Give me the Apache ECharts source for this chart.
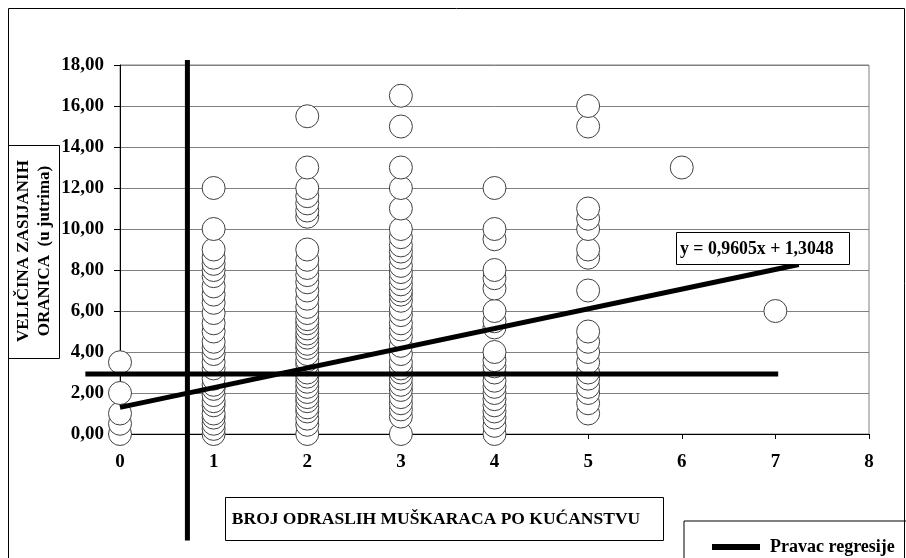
<!DOCTYPE html>
<html>
<head>
<meta charset="utf-8">
<script src="https://cdn.jsdelivr.net/npm/echarts@6/dist/echarts.min.js"></script>
<style>
html, body { margin: 0; padding: 0; background: #fff; }
#main { width: 906px; height: 558px; }
</style>
</head>
<body>
<div id="main"></div>
<script>
// broj odraslih muškaraca (x) -> veličina zasijanih oranica (y), po stupcima
const men0 = [0, 0.5, 1, 2, 3.5];
const men1 = [0, 0.25, 0.5, 0.8, 1, 1.4, 1.6, 1.9, 2.2, 2.4, 2.7, 3.2, 3.5, 3.9, 4.2, 4.5, 5, 5.4, 5.9, 6.4, 6.8, 7.2, 7.7, 8, 8.3, 8.6, 9, 10, 12];
const men2 = [0, 0.45, 0.75, 1.1, 1.3, 1.6, 1.8, 2.05, 2.3, 2.55, 2.8, 3, 3.4, 3.6, 3.9, 4.2, 4.4, 4.7, 4.9, 5.15, 5.4, 5.6, 5.9, 6.2, 6.6, 7, 7.4, 7.75, 8.1, 8.5, 9, 10.6, 10.9, 11.25, 11.6, 12, 13, 15.5];
const men3 = [0, 0.85, 1.2, 1.5, 1.8, 2.15, 2.4, 2.7, 3, 3.2, 3.5, 3.9, 4.3, 4.75, 5.1, 5.4, 5.8, 6.1, 6.5, 6.8, 7, 7.3, 7.6, 7.9, 8.2, 8.6, 8.9, 9.2, 9.6, 10, 11, 12, 13, 15, 16.5];
const men4 = [0, 0.4, 0.8, 1.1, 1.4, 1.7, 2, 2.3, 2.6, 3, 3.3, 3.6, 4, 5.2, 5.5, 6, 7.1, 7.6, 8, 9.5, 10, 12];
const men5 = [1, 1.5, 2, 2.3, 2.7, 3, 3.5, 4, 4.5, 5, 7, 8.6, 9, 10, 10.5, 11, 15, 16];
const men6 = [13];
const men7 = [6];
const columns = [men0, men1, men2, men3, men4, men5, men6, men7];

// pravac regresije (krajnje točke očitane sa slike)
const regX = [0, 7.25];
const regY = [1.3, 8.27];

// debele linije (prosjeci) i njihovi rasponi
const avgX = 0.72;
const avgXSpan = [-5.2, 18.25];
const avgY = 2.93;
const avgYSpan = [-0.37, 7.03];

const yTicks = [0, 2, 4, 6, 8, 10, 12, 14, 16, 18];
const xTicks = [0, 1, 2, 3, 4, 5, 6, 7, 8];

const FONT = '"Liberation Serif", "Times New Roman", serif';

function initChart() {
    const chart = echarts.init(document.getElementById('main'));

    const points = [];
    columns.forEach((col, x) => {
        col.forEach(v => points.push([x, v]));
    });

    // druga (nevidljiva) mreža s istim mjerilom, proširena ulijevo za jednu jedinicu
    const unitPx = (906 - 120 - 37) / (xTicks.length - 1);

    chart.setOption({
        animation: false,
        grid: [
            {
                left: 120, right: 37, top: 65, bottom: 124,
                show: true, borderColor: '#808080', borderWidth: 1,
                outerBoundsMode: 'none'
            },
            {
                left: 120 - unitPx, right: 37, top: 65, bottom: 124,
                show: false, outerBoundsMode: 'none'
            }
        ],
        legend: {
            data: ['Pravac regresije'],
            left: 684, top: 521,
            padding: [17, 40, 40, 28],
            borderColor: '#000', borderWidth: 1,
            itemWidth: 48, itemHeight: 6, icon: 'rect',
            textStyle: {
                fontFamily: FONT, fontWeight: 'bold', fontSize: 18, color: '#000',
                padding: [0, 0, 0, 5]
            }
        },
        xAxis: [
            {
                type: 'value', gridIndex: 0,
                min: xTicks[0], max: xTicks[xTicks.length - 1], interval: 1,
                axisLine: { lineStyle: { color: '#000', width: 1 } },
                axisTick: { length: 5, lineStyle: { color: '#000' } },
                splitLine: { show: false },
                axisLabel: {
                    margin: 19, color: '#000',
                    fontFamily: FONT, fontWeight: 'bold', fontSize: 19
                }
            },
            {
                type: 'value', gridIndex: 1, show: false,
                min: xTicks[0] - 1, max: xTicks[xTicks.length - 1],
                splitLine: { show: false }
            }
        ],
        yAxis: [
            {
                type: 'value', gridIndex: 0,
                min: yTicks[0], max: yTicks[yTicks.length - 1], interval: 2,
                axisLine: { show: true, lineStyle: { color: '#000', width: 1 } },
                axisTick: { show: true, length: 6, lineStyle: { color: '#000' } },
                splitLine: { lineStyle: { color: '#808080', width: 1 } },
                axisLabel: {
                    margin: 16, color: '#000',
                    fontFamily: FONT, fontWeight: 'bold', fontSize: 19,
                    formatter: v => v.toFixed(2).replace('.', ',')
                }
            },
            {
                type: 'value', gridIndex: 1, show: false,
                min: yTicks[0], max: yTicks[yTicks.length - 1],
                splitLine: { show: false }
            }
        ],
        series: [
            {
                type: 'scatter',
                data: points,
                symbol: 'circle',
                symbolSize: 23,
                itemStyle: { color: '#fff', borderColor: '#404040', borderWidth: 1, opacity: 1 },
                z: 2
            },
            {
                name: 'Pravac regresije',
                type: 'line',
                data: regX.map((x, i) => [x, regY[i]]),
                symbol: 'none',
                color: '#000',
                lineStyle: { color: '#000', width: 5 },
                clip: false,
                z: 5
            },
            {
                type: 'line',
                xAxisIndex: 1, yAxisIndex: 1,
                data: avgXSpan.map(y => [avgX, y]),
                symbol: 'none',
                lineStyle: { color: '#000', width: 5 },
                clip: false,
                z: 5
            },
            {
                type: 'line',
                xAxisIndex: 1, yAxisIndex: 1,
                data: avgYSpan.map(x => [x, avgY]),
                symbol: 'none',
                lineStyle: { color: '#000', width: 5 },
                clip: false,
                z: 5
            }
        ],
        graphic: [
            // okvir grafikona
            {
                type: 'rect', silent: true, z: 0,
                shape: { x: 8.5, y: 8.5, width: 896, height: 600 },
                style: { fill: 'none', stroke: '#000', lineWidth: 1 }
            },
            // naslov osi y
            {
                type: 'rect', silent: true,
                shape: { x: 8.5, y: 145.5, width: 51, height: 213 },
                style: { fill: '#fff', stroke: '#000', lineWidth: 1 }
            },
            {
                type: 'text', silent: true,
                x: 34, y: 251, rotation: Math.PI / 2,
                style: {
                    text: 'VELIČINA ZASIJANIH\nORANICA  (u jutrima)',
                    font: 'bold 17px ' + FONT,
                    fill: '#000', align: 'center', verticalAlign: 'middle',
                    lineHeight: 21
                }
            },
            // naslov osi x
            {
                type: 'rect', silent: true,
                shape: { x: 225.5, y: 497.5, width: 438, height: 43 },
                style: { fill: '#fff', stroke: '#000', lineWidth: 1 }
            },
            {
                type: 'text', silent: true,
                x: 436, y: 519,
                style: {
                    text: 'BROJ ODRASLIH MUŠKARACA PO KUĆANSTVU',
                    font: 'bold 17.5px ' + FONT,
                    fill: '#000', align: 'center', verticalAlign: 'middle'
                }
            },
            // jednadžba pravca
            {
                type: 'rect', silent: true, z: 10,
                shape: { x: 676.5, y: 232.5, width: 173, height: 32 },
                style: { fill: '#fff', stroke: '#000', lineWidth: 1 }
            },
            {
                type: 'text', silent: true, z: 11,
                x: 680, y: 249,
                style: {
                    text: 'y = 0,9605x + 1,3048',
                    font: 'bold 17.8px ' + FONT,
                    fill: '#000', align: 'left', verticalAlign: 'middle'
                }
            }
        ]
    });
}

document.addEventListener('DOMContentLoaded', initChart);
</script>
</body>
</html>
